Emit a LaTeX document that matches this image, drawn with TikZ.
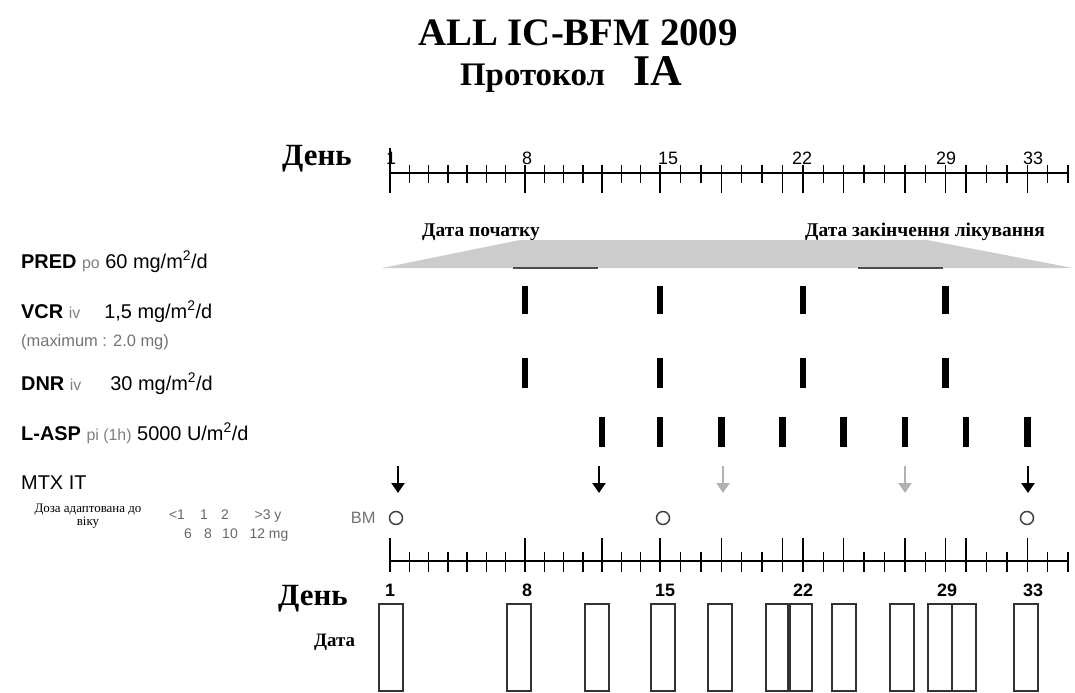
\documentclass[tikz,border=0pt]{standalone}
\usepackage{fontspec}
\setmainfont{Liberation Serif}
\setsansfont{Liberation Sans}
\usepackage{tikz}
\usetikzlibrary{positioning,arrows.meta}

\newcommand{\fs}[1]{\fontsize{#1}{#1}\selectfont}

\begin{document}
\begin{tikzpicture}[x=1bp,y=-1bp]
	\tikzstyle{txt}=[inner sep=0pt, anchor=base west, font=\sffamily\fs{20}]
	\tikzstyle{note}=[text=black!55, font=\sffamily\fs{16.5}]
	\tikzstyle{age}=[inner sep=0pt, anchor=base, text=black!60, font=\sffamily\fs{14}]
	\tikzstyle{hd}=[inner sep=0pt, anchor=base west, font=\bfseries\fs{31}]
	\tikzstyle{num}=[inner sep=0pt, anchor=base, font=\sffamily\fs{18}]
	\tikzstyle{axis}=[line width=1.6bp]
	\tikzstyle{tick}=[line width=1.4bp]
	\tikzstyle{mtx}=[-{Triangle[width=13bp,length=10bp]}, line width=2.6bp]
	\tikzstyle{mtxlight}=[mtx, draw=black!30]
	\tikzstyle{bm}=[circle, draw=black!75, line width=1.5bp, minimum size=13bp, inner sep=0pt]
	\tikzstyle{datebox}=[draw=black!80, line width=1.2bp]
	\useasboundingbox (0,0) rectangle (1075,693);
	\node[inner sep=0pt, anchor=base] (title) at (578,46) {\bfseries\fs{39}ALL IC-BFM 2009};
	\node[inner sep=0pt, anchor=base] (proto) at (571,86) {\bfseries\fs{33}Протокол\hspace{28bp}\fs{44}IA};
	\node[hd] (daytop) at (282,166) {День};
	\draw[axis] (390,173) -- (1068,173);
	\foreach \d in {1,...,35} {
		\pgfmathsetmacro{\xx}{\d<16 ? 390+(\d-1)*19.286 : 660+(\d-15)*20.4}
		\draw[tick] (\xx,165) -- (\xx,183);
		\draw[tick] (\xx,552) -- (\xx,572);
	}
	\foreach \d in {1,8,12,15,18,21,22,24,27,29,30,33} {
		\pgfmathsetmacro{\xx}{\d<16 ? 390+(\d-1)*19.286 : 660+(\d-15)*20.4}
		\draw[tick] (\xx,165) -- (\xx,193);
		\draw[tick] (\xx,538) -- (\xx,572);
	}
	\draw[tick] (390,148) -- (390,165);
	\node[num] (t1) at (391,165) {1};
	\node[num] (t8) at (527,165) {8};
	\node[num] (t15) at (668,165) {15};
	\node[num] (t22) at (802,165) {22};
	\node[num] (t29) at (946,165) {29};
	\node[num] (t33) at (1033,165) {33};
	\node[hd, font=\bfseries\fs{19.5}] (start) at (422,236) {Дата початку};
	\node[hd, font=\bfseries\fs{19.5}] (finish) at (805,236) {Дата закінчення лікування};
	\fill[black!20] (382,268) -- (520,240) -- (927,240) -- (1073,268) -- cycle;
	\draw[line width=2bp, black!70] (513,268) -- (598,268);
	\draw[line width=2bp, black!70] (858,268) -- (943,268);
	\node[txt] (pred) at (21,268) {\textbf{PRED} {\color{black!50}\fs{16}po} 60 mg/m\textsuperscript{2}/d};
	\node[txt] (vcr) at (21,318) {\textbf{VCR} {\color{black!50}\fs{16}iv}\hspace{24bp}1,5 mg/m\textsuperscript{2}/d};
	\node[txt, note] (vcrmax) at (21,346) {(maximum : 2.0 mg)};
	\node[txt] (dnr) at (21,390) {\textbf{DNR} {\color{black!50}\fs{16}iv}\hspace{29bp}30 mg/m\textsuperscript{2}/d};
	\node[txt] (lasp) at (21,440) {\textbf{L-ASP} {\color{black!50}\fs{16}pi (1h)} 5000 U/m\textsuperscript{2}/d};
	\node[txt] (mtx) at (21,489) {MTX IT};
	\foreach \d in {8,15,22,29} {
		\pgfmathsetmacro{\xx}{\d<16 ? 390+(\d-1)*19.286 : 660+(\d-15)*20.4}
		\fill (\xx-3.3,286) rectangle (\xx+3.3,314);
		\fill (\xx-3.3,358) rectangle (\xx+3.3,388);
	}
	\foreach \d in {12,15,18,21,24,27,30,33} {
		\pgfmathsetmacro{\xx}{\d<16 ? 390+(\d-1)*19.286 : 660+(\d-15)*20.4}
		\fill (\xx-3.3,417) rectangle (\xx+3.3,447);
	}
	\foreach \x in {398,599,1028} \draw[mtx] (\x,466) -- (\x,493);
	\foreach \x in {723,905} \draw[mtxlight] (\x,466) -- (\x,493);
	\node[inner sep=0pt, align=center, font=\fs{13}, anchor=north] (doza) at (88,504) {Доза адаптована до\\віку};
	\node[age] (a1) at (177,519) {<1};
	\node[age] (a2) at (204,519) {1};
	\node[age] (a3) at (225,519) {2};
	\node[age] (a4) at (268,519) {>3 y};
	\node[age] (m1) at (188,538) {6};
	\node[age] (m2) at (208,538) {8};
	\node[age] (m3) at (230,538) {10};
	\node[age] (m4) at (269,538) {12 mg};
	\node[bm] (bm1) at (396,518) {};
	\node[bm] (bm15) at (663,518) {};
	\node[bm] (bm33) at (1027,518) {};
	\node[note, inner sep=0pt, left=13bp of bm1] (bmlbl) {BM};
	\draw[axis] (390,561) -- (1068,561);
	\node[num, font=\sffamily\bfseries\fs{18}] (b1) at (390,596) {1};
	\node[num, font=\sffamily\bfseries\fs{18}] (b8) at (527,596) {8};
	\node[num, font=\sffamily\bfseries\fs{18}] (b15) at (665,596) {15};
	\node[num, font=\sffamily\bfseries\fs{18}] (b22) at (803,596) {22};
	\node[num, font=\sffamily\bfseries\fs{18}] (b29) at (947,596) {29};
	\node[num, font=\sffamily\bfseries\fs{18}] (b33) at (1033,596) {33};
	\node[hd] (daybot) at (278,605) {День};
	\node[hd, font=\bfseries\fs{19}] (data) at (314,646) {Дата};
	\foreach \l in {379,507,585,651,708,766,788,832,890,928,952,1014}
		\draw[datebox] (\l,604) rectangle (\l+24,691);
\end{tikzpicture}
\end{document}
